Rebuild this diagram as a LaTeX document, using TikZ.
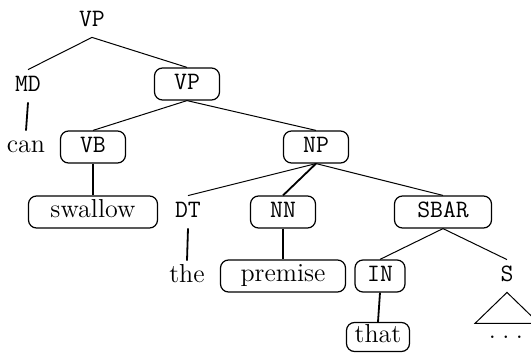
\documentclass[tikz,border=0pt]{standalone}
\usepackage{tikz}

\begin{document}
\begin{tikzpicture}[x=0.5pt, y=-0.5pt,
  tag/.style={font=\fontsize{12.5}{14}\selectfont\ttfamily, text height=8pt, text depth=2.5pt, minimum height=16pt, inner sep=0pt},
  word/.style={font=\fontsize{13}{15}\selectfont, text height=8pt, text depth=2.5pt, minimum height=16pt, inner sep=0pt},
  boxed/.style={draw, rounded corners=4pt, line width=0.6pt},
  branch/.style={line width=0.5pt},
  stem/.style={line width=0.9pt}]
\useasboundingbox (0,0) rectangle (531,354);
\clip (0,0) rectangle (531,354);

% labels of the tree
\node [tag] (vp0) at (92,21) {VP};
\node [tag] (md) at (28,86) {MD};
\node [tag,boxed,minimum width=32.5pt] (vp1) at (187,84) {VP};
\node [word] (can) at (26,147) {can};
\node [tag,boxed,minimum width=32.5pt] (vb) at (93,147) {VB};
\node [tag,boxed,minimum width=32.5pt] (np) at (316,147) {NP};
\node [word,boxed,minimum width=64.5pt] (swallow) at (93,212) {swallow};
\node [tag] (dt) at (188,212) {DT};
\node [tag,boxed,minimum width=32.5pt] (nn) at (283,212) {NN};
\node [tag,boxed,minimum width=48.5pt] (sbar) at (443,212) {SBAR};
\node [word] (the) at (187,277) {the};
\node [word,boxed,minimum width=62.5pt] (premise) at (283,276) {premise};
\node [tag,boxed,minimum width=25pt] (in) at (380,276) {IN};
\node [tag] (s) at (507,276) {S};
\node [word,boxed,minimum width=31.5pt,minimum height=14.5pt] (that) at (378,337) {that};
\node [word] (dots) at (506,333) {.\hspace{3.2pt}.\hspace{3.2pt}.};

% branches
\draw [branch] (vp0.south) -- (md.north);
\draw [branch] (vp0.south) -- (vp1.north);
\draw [stem] (md.south) -- (can.north);
\draw [branch] (vp1.south) -- (vb.north);
\draw [branch] (vp1.south) -- (np.north);
\draw [stem] (vb.south) -- (swallow.north);
\draw [branch] (np.south) -- (dt.north);
\draw [stem] (np.south) -- (nn.north);
\draw [branch] (np.south) -- (sbar.north);
\draw [stem] (dt.south) -- (the.north);
\draw [stem] (nn.south) -- (premise.north);
\draw [branch] (sbar.south) -- (in.north);
\draw [branch] (sbar.south) -- (s.north);
\draw [stem] (in.south) -- (that.north);
\draw [branch] (s.south) -- ++(-32,31) -- ++(64,0) -- cycle;
\end{tikzpicture}
\end{document}
